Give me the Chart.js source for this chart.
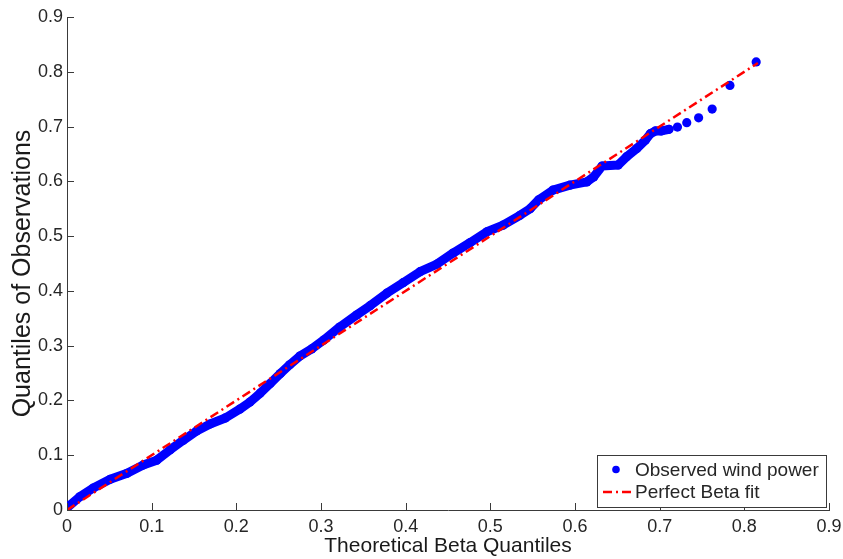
<!DOCTYPE html>
<html>
<head>
<meta charset="utf-8">
<title>Beta Q-Q plot of wind power</title>
<script src="https://cdn.jsdelivr.net/npm/chart.js@4.4.1/dist/chart.umd.min.js"></script>
<style>
  html, body { margin: 0; padding: 0; background: #fff; }
</style>
</head>
<body>
<canvas id="qqChart" width="843" height="559"></canvas>
<script>
// Theoretical beta quantiles against the sorted observed wind power
const betaQuantiles = [0.000, 0.015, 0.031, 0.051, 0.071, 0.090, 0.106, 0.122, 0.137, 0.153,
    0.169, 0.187, 0.204, 0.216, 0.228, 0.240, 0.252, 0.263, 0.275, 0.289,
    0.303, 0.322, 0.342, 0.358, 0.378, 0.397, 0.417, 0.437, 0.456, 0.476,
    0.496, 0.515, 0.535, 0.547, 0.557, 0.574, 0.594, 0.614, 0.622, 0.632,
    0.651, 0.661, 0.673, 0.683, 0.689, 0.695, 0.702, 0.711, 0.721, 0.732,
    0.746, 0.762, 0.783, 0.814];
const observedQuantiles = [0.004, 0.024, 0.040, 0.056, 0.067, 0.082, 0.091, 0.110, 0.127, 0.144,
    0.157, 0.168, 0.184, 0.197, 0.213, 0.231, 0.249, 0.265, 0.281, 0.294,
    0.310, 0.334, 0.356, 0.373, 0.396, 0.415, 0.435, 0.449, 0.469, 0.488,
    0.508, 0.520, 0.538, 0.550, 0.566, 0.584, 0.593, 0.599, 0.608, 0.628,
    0.630, 0.645, 0.660, 0.675, 0.687, 0.692, 0.692, 0.695, 0.699, 0.707,
    0.716, 0.732, 0.775, 0.818];

// y = x reference line
const fitLineX = [0, 0.816];
const fitLineY = [0, 0.816];

const axisTicks = [0, 0.1, 0.2, 0.3, 0.4, 0.5, 0.6, 0.7, 0.8, 0.9];
const seriesNames = ['Observed wind power', 'Perfect Beta fit'];
const xTitle = 'Theoretical Beta Quantiles';
const yTitle = 'Quantiles of Observations';

// upper tail points are shown as separate dots
const tailFrom = 0.711;

const FONT = '"Liberation Sans", Arial, Helvetica, sans-serif';
const AXIS_COLOR = '#3a3a3a';
const TEXT_COLOR = '#262626';

// tick marks drawn inwards from the two axes
const innerTicks = {
    id: 'innerTicks',
    afterDraw(chart) {
        const { ctx, chartArea, scales } = chart;
        const len = 7;
        ctx.save();
        ctx.strokeStyle = AXIS_COLOR;
        ctx.lineWidth = 1;
        ctx.beginPath();
        scales.x.ticks.forEach(t => {
            const px = Math.round(scales.x.getPixelForValue(t.value)) + 0.5;
            ctx.moveTo(px, chartArea.bottom);
            ctx.lineTo(px, chartArea.bottom - len);
        });
        scales.y.ticks.forEach(t => {
            const py = Math.round(scales.y.getPixelForValue(t.value)) + 0.5;
            ctx.moveTo(chartArea.left, py);
            ctx.lineTo(chartArea.left + len, py);
        });
        ctx.stroke();
        ctx.restore();
    }
};

// vertical axis title, sitting a little below the middle of the plot
const yAxisTitle = {
    id: 'yAxisTitle',
    afterDraw(chart) {
        const { ctx, chartArea } = chart;
        ctx.save();
        ctx.translate(23, (chartArea.top + chartArea.bottom) / 2 + 10);
        ctx.rotate(-Math.PI / 2);
        ctx.font = '25px ' + FONT;
        ctx.fillStyle = '#1a1a1a';
        ctx.textAlign = 'center';
        ctx.textBaseline = 'middle';
        ctx.fillText(yTitle, 0, 0);
        ctx.restore();
    }
};

// boxed legend in the lower right corner of the plot
const boxLegend = {
    id: 'boxLegend',
    afterDraw(chart) {
        const { ctx, chartArea } = chart;
        const sets = chart.data.datasets;
        ctx.save();
        ctx.font = '19px ' + FONT;
        const textW = Math.max(...sets.map(ds => ctx.measureText(ds.label).width));
        const w = Math.round(38 + textW + 7);
        const h = 52;
        const x = Math.round(chartArea.right - 3 - w);
        const y = Math.round(chartArea.bottom - 3 - h);

        ctx.fillStyle = '#fff';
        ctx.fillRect(x, y, w, h);
        ctx.strokeStyle = AXIS_COLOR;
        ctx.lineWidth = 1;
        ctx.strokeRect(x + 0.5, y + 0.5, w, h);

        const row1 = y + 14.5;
        const row2 = y + 37;

        // observed series: a single dot
        ctx.fillStyle = sets[0].pointBackgroundColor;
        ctx.beginPath();
        ctx.arc(x + 19, row1, 3.8, 0, Math.PI * 2);
        ctx.fill();

        // fitted line sample
        ctx.strokeStyle = sets[1].borderColor;
        ctx.lineWidth = sets[1].borderWidth;
        ctx.setLineDash(sets[1].borderDash);
        ctx.beginPath();
        ctx.moveTo(x + 6, row2);
        ctx.lineTo(x + 37, row2);
        ctx.stroke();
        ctx.setLineDash([]);

        ctx.fillStyle = TEXT_COLOR;
        ctx.textBaseline = 'middle';
        ctx.textAlign = 'left';
        ctx.fillText(sets[0].label, x + 38, row1 + 1);
        ctx.fillText(sets[1].label, x + 38, row2 + 1);
        ctx.restore();
    }
};

function axisOptions() {
    return {
        type: 'linear',
        min: 0,
        max: 0.9,
        afterBuildTicks: scale => { scale.ticks = axisTicks.map(v => ({ value: v })); },
        ticks: {
            color: TEXT_COLOR,
            font: { family: FONT, size: 18 },
            callback: v => v === 0 ? '0' : v.toFixed(1)
        },
        grid: { display: true, drawOnChartArea: false, drawTicks: false },
        border: { display: true, color: AXIS_COLOR, width: 1 }
    };
}

const xAxis = axisOptions();
xAxis.ticks.padding = 6;
xAxis.title = {
    display: true,
    text: xTitle,
    color: '#1a1a1a',
    font: { family: FONT, size: 21 },
    padding: { top: 0, bottom: 0 }
};
// fixed box sizes so the plot area keeps its place
xAxis.afterFit = scale => {
    scale.height = 49;
    scale.paddingLeft = 0;
    scale.paddingRight = 0;
};

const yAxis = axisOptions();
yAxis.ticks.padding = 4;
yAxis.afterFit = scale => {
    scale.width = 67;
    scale.paddingTop = 0;
    scale.paddingBottom = 0;
};

new Chart(document.getElementById('qqChart'), {
    type: 'scatter',
    data: {
        datasets: [{
            label: seriesNames[0],
            data: betaQuantiles.map((q, i) => ({ x: q, y: observedQuantiles[i] })),
            showLine: true,
            borderColor: '#0000ff',
            borderWidth: 9,
            borderCapStyle: 'round',
            borderJoinStyle: 'round',
            pointRadius: 4.6,
            pointBorderWidth: 0,
            pointBackgroundColor: '#0000ff',
            tension: 0,
            segment: {
                borderColor: ctx => ctx.p0.parsed.x >= tailFrom ? 'rgba(0,0,0,0)' : '#0000ff'
            },
            order: 1
        }, {
            label: seriesNames[1],
            data: fitLineX.map((v, i) => ({ x: v, y: fitLineY[i] })),
            showLine: true,
            borderColor: '#ff0000',
            borderWidth: 2.5,
            borderDash: [9, 4, 2, 4],
            pointRadius: 0,
            order: 0
        }]
    },
    options: {
        responsive: false,
        animation: false,
        layout: { padding: { top: 17, right: 14, bottom: 0, left: 0 } },
        plugins: {
            legend: { display: false },
            tooltip: { enabled: false }
        },
        scales: { x: xAxis, y: yAxis }
    },
    plugins: [innerTicks, yAxisTitle, boxLegend]
});
</script>
</body>
</html>
